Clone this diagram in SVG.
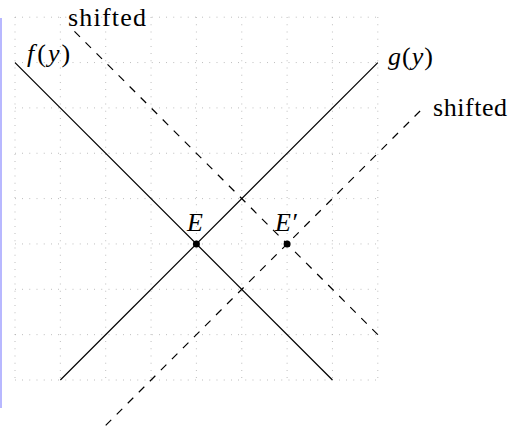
<svg xmlns="http://www.w3.org/2000/svg" width="526" height="428" viewBox="0 0 526 428">
<style>
.grid{stroke:#9a9a9a;stroke-width:0.8;stroke-dasharray:0.8 6.4;fill:none}
.solid{stroke:#000;stroke-width:1.2;fill:none}
.dash{stroke:#000;stroke-width:1.2;fill:none;stroke-dasharray:7.8 7.8}
.lbl{font-family:"Liberation Serif","DejaVu Serif",serif;font-size:26px;fill:#000}
.it{font-style:italic}
</style>
<rect x="0" y="18" width="2" height="390" fill="#b8b8ff"/>
<g id="grid">
<path class="grid" d="M15,17.2V380M60.35,17.2V380M105.7,17.2V380M151.05,17.2V380M196.4,17.2V380M241.75,17.2V380M287.1,17.2V380M332.45,17.2V380M377.8,17.2V380"/>
<path class="grid" d="M15,380H377.8M15,334.65H377.8M15,289.3H377.8M15,243.95H377.8M15,198.6H377.8M15,153.25H377.8M15,107.9H377.8M15,62.55H377.8M15,17.2H377.8"/>
</g>
<g id="connectors">
<line id="f" class="solid" x1="15" y1="62.55" x2="332.45" y2="380"/>
<line id="g" class="solid" x1="60.35" y1="380" x2="377.8" y2="62.55"/>
<line id="f-shifted" class="dash" x1="377.8" y1="334.65" x2="69" y2="25.85"/>
<line id="g-shifted" class="dash" x1="105.7" y1="425.35" x2="423.15" y2="107.9"/>
</g>
<g id="E">
<circle cx="196.4" cy="243.95" r="3.5" fill="#000"/>
<text class="lbl it" x="187" y="231">E</text>
</g>
<g id="Eprime">
<circle cx="287.1" cy="243.95" r="3.5" fill="#000"/>
<text class="lbl it" x="275" y="231">E′</text>
</g>
<g id="label-f">
<text class="lbl" x="27" y="62"><tspan class="it">f</tspan><tspan dx="3">(</tspan><tspan class="it" dx="2">y</tspan><tspan dx="2">)</tspan></text>
</g>
<g id="label-g">
<text class="lbl" x="388" y="64.5"><tspan class="it">g</tspan><tspan dx="1">(</tspan><tspan class="it" dx="1">y</tspan><tspan dx="1">)</tspan></text>
</g>
<g id="label-shifted-top">
<text class="lbl" x="68" y="26" textLength="78" lengthAdjust="spacing">shifted</text>
</g>
<g id="label-shifted-right">
<text class="lbl" x="433" y="116" textLength="74" lengthAdjust="spacing">shifted</text>
</g>
</svg>
